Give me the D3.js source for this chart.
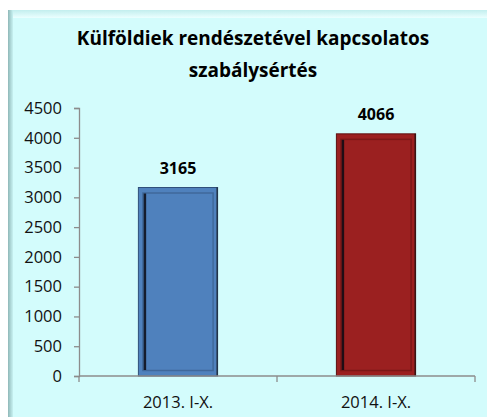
<!DOCTYPE html>
<html>
<head>
<meta charset="utf-8">
<script src="https://cdn.jsdelivr.net/npm/d3@7"></script>
<style>
  body { margin: 0; background: #fff; }
  text { font-family: "Open Sans", sans-serif; }
</style>
</head>
<body>
<div id="chart"></div>
<script>
// chart data
var titleLines = ["Külföldiek rendészetével kapcsolatos", "szabálysértés"];
var categories = ["2013. I-X.", "2014. I-X."];
var values = [3165, 4066];
var barColors = ["#4f81bd", "#9b2020"];
var barEdges = ["#2f4f7a", "#5e1010"];
var yTicks = [0, 500, 1000, 1500, 2000, 2500, 3000, 3500, 4000, 4500];

var w = 487, h = 419;
var svg = d3.select("#chart").append("svg")
    .attr("width", w)
    .attr("height", h);

// panel with bevel
var defs = svg.append("defs");
var lg = defs.append("linearGradient").attr("id", "leftEdge");
lg.append("stop").attr("offset", "0%").attr("stop-color", "#8fb8b8");
lg.append("stop").attr("offset", "100%").attr("stop-color", "#c8f2f2");
var tg = defs.append("linearGradient").attr("id", "topEdge")
    .attr("x1", 0).attr("y1", 0).attr("x2", 0).attr("y2", 1);
tg.append("stop").attr("offset", "0%").attr("stop-color", "#c2eeee");
tg.append("stop").attr("offset", "100%").attr("stop-color", "#ebffff");

svg.append("rect")
    .attr("x", 8).attr("y", 10)
    .attr("width", w - 8).attr("height", h - 12)
    .attr("fill", "#d3fcfc");
svg.append("rect")
    .attr("x", 8).attr("y", 10)
    .attr("width", w - 8).attr("height", 8)
    .attr("fill", "url(#topEdge)");
svg.append("rect")
    .attr("x", 8).attr("y", 10)
    .attr("width", 5).attr("height", h - 12)
    .attr("fill", "url(#leftEdge)");

// title
svg.append("text")
    .attr("x", 253)
    .attr("y", 45)
    .attr("text-anchor", "middle")
    .style("font-size", "19px")
    .style("font-weight", "bold")
    .selectAll("tspan")
    .data(titleLines)
    .enter().append("tspan")
    .attr("x", 253)
    .attr("dy", function(d, i) { return i == 0 ? 0 : 32; })
    .text(function(d) { return d; });

var x0 = 79, x1 = 475, yTop = 108, yBot = 376;

var x = d3.scaleBand()
    .domain(categories)
    .range([x0, x1])
    .paddingInner(0.6)
    .paddingOuter(0.3);

var y = d3.scaleLinear()
    .domain([0, 4500])
    .range([yBot, yTop]);

// y axis
var yAxis = svg.append("g")
    .attr("transform", "translate(" + x0 + ",0)")
    .call(d3.axisLeft(y).tickValues(yTicks).tickFormat(d3.format("d")).tickSize(5).tickPadding(12));
yAxis.select(".domain").attr("stroke", "#8c8c8c").attr("stroke-width", 1.3);
yAxis.selectAll(".tick line").attr("stroke", "#8c8c8c").attr("stroke-width", 1.3);
yAxis.selectAll(".tick text")
    .style("font-size", "16.5px")
    .style("font-family", "'Open Sans', sans-serif")
    .attr("fill", "#111");

// bars
var bars = svg.selectAll(".bar")
    .data(values)
    .enter().append("g")
    .attr("class", "bar");

bars.append("rect")
    .attr("x", function(d, i) { return x(categories[i]); })
    .attr("y", function(d) { return y(d); })
    .attr("width", x.bandwidth())
    .attr("height", function(d) { return yBot - y(d); })
    .attr("fill", function(d, i) { return barColors[i]; })
    .attr("stroke", function(d, i) { return barEdges[i]; })
    .attr("stroke-width", 1);

// inner bevel frame
bars.append("rect")
    .attr("x", function(d, i) { return x(categories[i]) + 4.5; })
    .attr("y", function(d) { return y(d) + 5.5; })
    .attr("width", x.bandwidth() - 9)
    .attr("height", function(d) { return yBot - y(d) - 11; })
    .attr("fill", "none")
    .attr("stroke", function(d, i) { return barEdges[i]; })
    .attr("stroke-opacity", 0.5)
    .attr("stroke-width", 1.5);

// dark left inner shadow
bars.append("line")
    .attr("x1", function(d, i) { return x(categories[i]) + 6.5; })
    .attr("x2", function(d, i) { return x(categories[i]) + 6.5; })
    .attr("y1", function(d) { return y(d) + 6; })
    .attr("y2", yBot - 6)
    .attr("stroke", "#0a0a14")
    .attr("stroke-opacity", 0.85)
    .attr("stroke-width", 2.5);

// dark right outer edge
bars.append("line")
    .attr("x1", function(d, i) { return x(categories[i]) + x.bandwidth() - 0.5; })
    .attr("x2", function(d, i) { return x(categories[i]) + x.bandwidth() - 0.5; })
    .attr("y1", function(d) { return y(d); })
    .attr("y2", yBot)
    .attr("stroke", "#111")
    .attr("stroke-opacity", 0.6)
    .attr("stroke-width", 1.5);

// value labels
svg.selectAll(".val")
    .data(values)
    .enter().append("text")
    .attr("class", "val")
    .attr("x", function(d, i) { return x(categories[i]) + x.bandwidth() / 2; })
    .attr("y", function(d) { return y(d) - 14; })
    .attr("text-anchor", "middle")
    .style("font-size", "16px")
    .style("font-weight", "bold")
    .text(function(d) { return d; });

// x axis: ticks between categories
var xAxis = svg.append("g")
    .attr("transform", "translate(0," + yBot + ")");
xAxis.append("line")
    .attr("x1", x0).attr("x2", x1)
    .attr("stroke", "#8c8c8c").attr("stroke-width", 1.5);
xAxis.selectAll(".xt")
    .data([x0, (x0 + x1) / 2, x1])
    .enter().append("line")
    .attr("x1", function(d) { return d; })
    .attr("x2", function(d) { return d; })
    .attr("y1", 0).attr("y2", 6)
    .attr("stroke", "#8c8c8c").attr("stroke-width", 1.3);
xAxis.selectAll(".xl")
    .data(categories)
    .enter().append("text")
    .attr("x", function(d) { return x(d) + x.bandwidth() / 2; })
    .attr("y", 32)
    .attr("text-anchor", "middle")
    .style("font-size", "16.5px")
    .attr("fill", "#111")
    .text(function(d) { return d; });
</script>
</body>
</html>
